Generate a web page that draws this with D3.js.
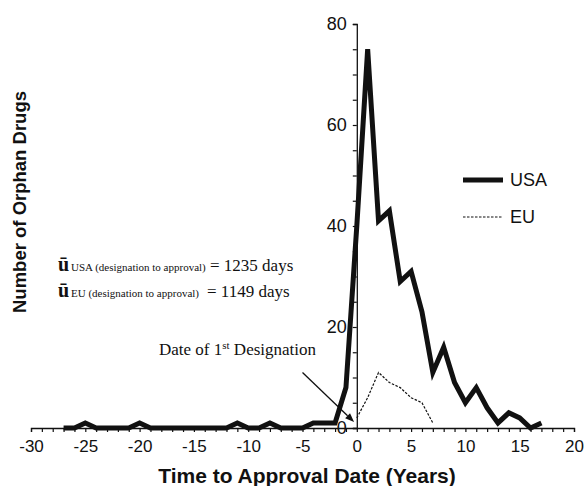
<!DOCTYPE html>
<html><head><meta charset="utf-8">
<script src="https://cdn.jsdelivr.net/npm/d3@7"></script>
<style>
html,body{margin:0;padding:0;background:#fff;}
svg{display:block;}
.sans{font-family:"Liberation Sans",Arial,Helvetica,sans-serif;}
.serif{font-family:"Liberation Serif","Times New Roman",serif;}
</style>
</head><body>
<svg id="chart" width="588" height="486"></svg>
<script>
// ---- data ----
const usaYears  = [-27,-26,-25,-24,-23,-22,-21,-20,-19,-18,-17,-16,-15,-14,-13,-12,-11,-10,-9,-8,-7,-6,-5,-4,-3,-2,-1,0,1,2,3,4,5,6,7,8,9,10,11,12,13,14,15,16,17];
const usaValues = [0,0,1,0,0,0,0,1,0,0,0,0,0,0,0,0,1,0,0,1,0,0,0,1,1,1,8,40,75,41,43,29,31,23,11,16,9,5,8,4,1,3,2,0,1];
const euYears   = [0,1,2,3,4,5,6,7];
const euValues  = [2,6,11,9,8,6,5,1];
const xTicks = [-30,-25,-20,-15,-10,-5,0,5,10,15,20];
const yTicks = [0,20,40,60,80];
const seriesNames = ["USA","EU"];
const xTitle = "Time to Approval Date (Years)";
const yTitle = "Number of Orphan Drugs";

const svg = d3.select("#chart");
const x = d3.scaleLinear().domain([-30,20]).range([31,574]);
const y = d3.scaleLinear().domain([0,80]).range([428,24]);
const ink = "#111";

// x axis
const xAxis = d3.axisBottom(x).tickValues(d3.range(-30,21,1)).tickSize(4)
  .tickFormat(d => xTicks.includes(d) ? d : "");
const gx = svg.append("g").attr("transform",`translate(0,${y(0)})`).call(xAxis);
gx.select(".domain").attr("stroke",ink).attr("stroke-width",1.3);
gx.selectAll(".tick line").attr("stroke",ink).attr("stroke-width",1.2);
gx.selectAll(".tick text").attr("class","sans").attr("font-size",17).attr("fill",ink).attr("dy","0.95em").attr("y",8);

// y axis
const yAxis = d3.axisLeft(y).tickValues(d3.range(0,81,5)).tickSize(4).tickPadding(6)
  .tickFormat(d => yTicks.includes(d) ? d : "");
const gy = svg.append("g").attr("transform",`translate(${x(0)},0)`).call(yAxis);
gy.select(".domain").attr("stroke",ink).attr("stroke-width",1.3);
gy.selectAll(".tick line").attr("stroke",ink).attr("stroke-width",1.2);
gy.selectAll(".tick text").attr("class","sans").attr("font-size",18).attr("fill",ink);

// lines
const line = d3.line().x(d=>x(d[0])).y(d=>y(d[1]));
svg.append("path").datum(euYears.map((v,i)=>[v,euValues[i]]))
  .attr("d",line).attr("fill","none").attr("stroke",ink).attr("stroke-width",1.2)
  .attr("stroke-dasharray","2.5,1.5");
svg.append("path").datum(usaYears.map((v,i)=>[v,usaValues[i]]))
  .attr("d",line).attr("fill","none").attr("stroke",ink).attr("stroke-width",5)
  .attr("stroke-linejoin","miter");

// legend
const legend = [{name:seriesNames[0],w:5,dash:null,yy:180},{name:seriesNames[1],w:1.2,dash:"2.5,1.5",yy:217}];
legend.forEach(l=>{
  svg.append("line").attr("x1",463).attr("x2",503).attr("y1",l.yy).attr("y2",l.yy)
    .attr("stroke",ink).attr("stroke-width",l.w).attr("stroke-dasharray",l.dash);
  svg.append("text").attr("class","sans").attr("x",510).attr("y",l.yy).attr("dy","0.36em")
    .attr("font-size",18).attr("fill",ink).text(l.name);
});

// axis titles
svg.append("text").attr("class","sans").attr("x",307).attr("y",483).attr("text-anchor","middle")
  .attr("font-size",21).attr("font-weight","bold").attr("fill",ink).text(xTitle);
svg.append("text").attr("class","sans").attr("transform","translate(26,202) rotate(-90)")
  .attr("text-anchor","middle").attr("font-size",18.5).attr("font-weight","bold").attr("fill",ink).text(yTitle);

// mean annotations
const means = [{sub:"USA (designation to approval)",val:"= 1235 days",by:271,vx:210},
               {sub:"EU (designation to approval)",val:"= 1149 days",by:297,vx:207}];
means.forEach(m=>{
  svg.append("text").attr("class","serif").attr("x",58).attr("y",m.by).attr("font-size",20)
    .attr("font-weight","bold").attr("fill",ink).text("ū");
  svg.append("text").attr("class","serif").attr("x",71).attr("y",m.by).attr("font-size",11)
    .attr("fill",ink).text(m.sub);
  svg.append("text").attr("class","serif").attr("x",m.vx).attr("y",m.by).attr("font-size",17)
    .attr("fill",ink).text(m.val);
});

// designation annotation
const t = svg.append("text").attr("class","serif").attr("x",159).attr("y",355).attr("font-size",17).attr("fill",ink);
t.append("tspan").text("Date of 1");
t.append("tspan").attr("font-size",11).attr("dy",-6).text("st");
t.append("tspan").attr("dy",6).text(" Designation");

// arrow (data coordinates)
const arrowFrom = [-5,11], arrowTo = [-0.25,1.2];
const x1 = x(arrowFrom[0]), y1 = y(arrowFrom[1]), x2 = x(arrowTo[0]), y2 = y(arrowTo[1]);
const ang = Math.atan2(y2-y1,x2-x1), L = 9, W = 3.5;
const bx = x2 - L*Math.cos(ang), by = y2 - L*Math.sin(ang);
svg.append("line").attr("x1",x1).attr("y1",y1).attr("x2",bx).attr("y2",by).attr("stroke",ink).attr("stroke-width",1.3);
svg.append("path").attr("d",`M${x2},${y2}L${bx - W*Math.sin(ang)},${by + W*Math.cos(ang)}L${bx + W*Math.sin(ang)},${by - W*Math.cos(ang)}Z`).attr("fill",ink);
</script>
</body></html>
